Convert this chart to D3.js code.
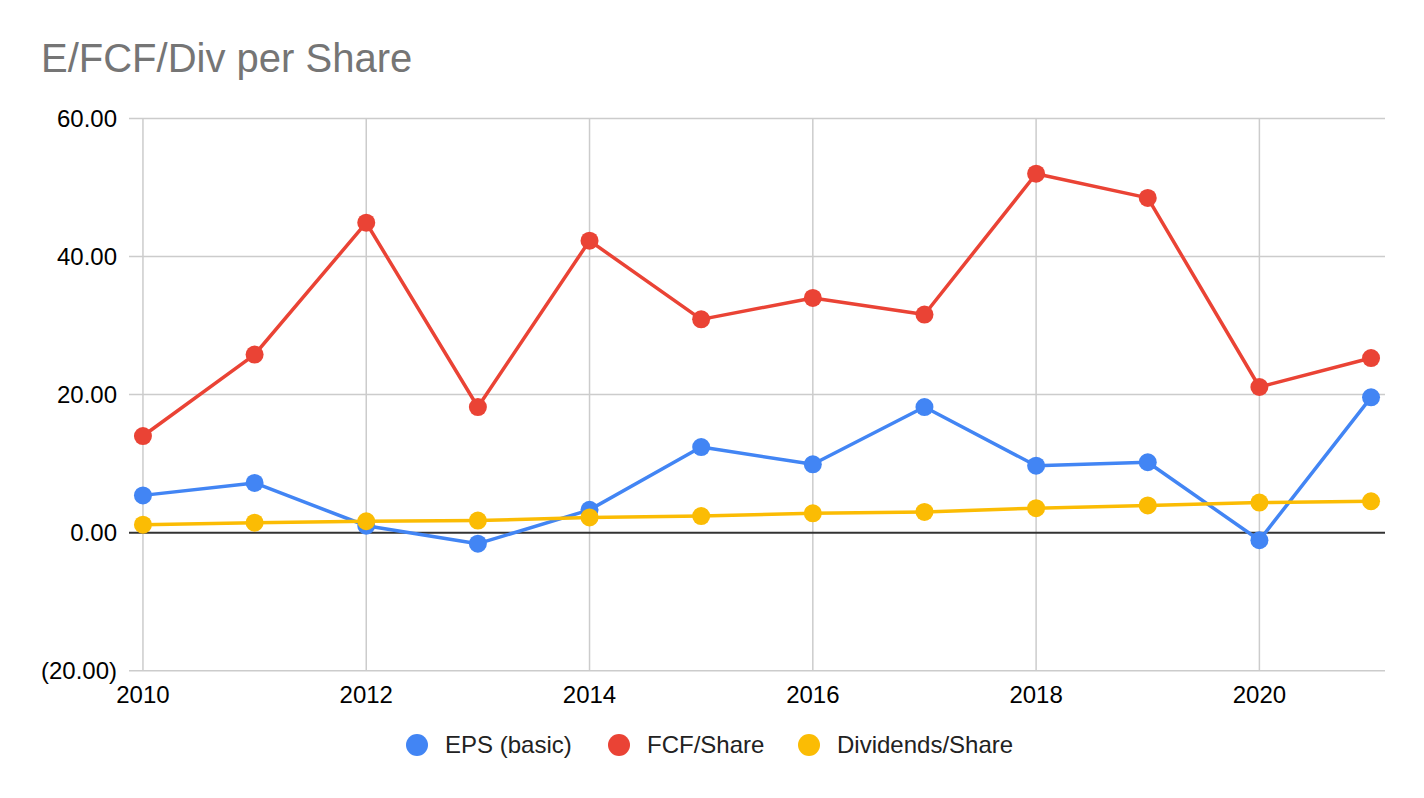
<!DOCTYPE html>
<html>
<head>
<meta charset="utf-8">
<script src="https://cdn.jsdelivr.net/npm/d3@7"></script>
<style>
  body { margin: 0; background: #fff; }
  svg { display: block; font-family: "Liberation Sans", Arial, sans-serif; }
</style>
</head>
<body>
<div id="chart"></div>
<script>
const years = [2010, 2011, 2012, 2013, 2014, 2015, 2016, 2017, 2018, 2019, 2020, 2021];
const eps = [5.4, 7.2, 1.0, -1.6, 3.3, 12.4, 9.9, 18.2, 9.7, 10.2, -1.1, 19.6];
const fcf = [14.0, 25.8, 44.9, 18.2, 42.3, 30.9, 34.0, 31.6, 52.0, 48.5, 21.1, 25.3];
const dividends = [1.15, 1.45, 1.65, 1.75, 2.2, 2.4, 2.8, 3.0, 3.55, 3.95, 4.35, 4.55];
const seriesNames = ["EPS (basic)", "FCF/Share", "Dividends/Share"];
const colors = ["#4285F4", "#EA4335", "#FBBC04"];
const yTicks = [-20, 0, 20, 40, 60];
const xTicks = [2010, 2012, 2014, 2016, 2018, 2020];

const width = 1424, height = 798;
const plot = {left: 129, right: 1385, top: 118.5, bottom: 670.7};

const svg = d3.select("#chart").append("svg")
  .attr("width", width)
  .attr("height", height);

svg.append("text")
  .attr("x", 41)
  .attr("y", 72)
  .attr("fill", "#757575")
  .style("font-size", "40px")
  .text("E/FCF/Div per Share");

const x = d3.scaleLinear()
  .domain([2009.875, 2021.125])
  .range([plot.left, plot.right]);

const y = d3.scaleLinear()
  .domain([-20, 60])
  .range([plot.bottom, plot.top]);

const fmt = v => v < 0 ? `(${d3.format(".2f")(-v)})` : d3.format(".2f")(v);

// vertical grid
svg.append("g")
  .selectAll("line")
  .data(xTicks)
  .join("line")
  .attr("x1", d => x(d)).attr("x2", d => x(d))
  .attr("y1", plot.top).attr("y2", plot.bottom)
  .attr("stroke", "#cccccc")
  .attr("stroke-width", 1.5);

// horizontal grid
svg.append("g")
  .selectAll("line")
  .data(yTicks.filter(d => d !== 0))
  .join("line")
  .attr("x1", plot.left).attr("x2", plot.right)
  .attr("y1", d => y(d)).attr("y2", d => y(d))
  .attr("stroke", "#cccccc")
  .attr("stroke-width", 1.5);

// y labels
svg.append("g")
  .selectAll("text")
  .data(yTicks)
  .join("text")
  .attr("x", 117)
  .attr("y", d => y(d))
  .attr("dy", "0.35em")
  .attr("text-anchor", "end")
  .attr("fill", "#000")
  .style("font-size", "24px")
  .text(fmt);

// x labels
svg.append("g")
  .selectAll("text")
  .data(xTicks)
  .join("text")
  .attr("x", d => x(d))
  .attr("y", 703)
  .attr("text-anchor", "middle")
  .attr("fill", "#000")
  .style("font-size", "24px")
  .text(d => d);

// zero baseline
svg.append("line")
  .attr("x1", plot.left).attr("x2", plot.right)
  .attr("y1", y(0)).attr("y2", y(0))
  .attr("stroke", "#333333")
  .attr("stroke-width", 2);

const series = [eps, fcf, dividends];
const line = d3.line()
  .x((d, i) => x(years[i]))
  .y(d => y(d));

series.forEach((vals, k) => {
  const g = svg.append("g");
  g.append("path")
    .datum(vals)
    .attr("d", line)
    .attr("fill", "none")
    .attr("stroke", colors[k])
    .attr("stroke-width", 3.5)
    .attr("stroke-linejoin", "round");
  g.selectAll("circle")
    .data(vals)
    .join("circle")
    .attr("cx", (d, i) => x(years[i]))
    .attr("cy", d => y(d))
    .attr("r", 9)
    .attr("fill", colors[k]);
});

// legend
const legendX = [417, 619, 809];
const legend = svg.append("g")
  .selectAll("g")
  .data(seriesNames)
  .join("g")
  .attr("transform", (d, i) => `translate(${legendX[i]}, 745)`);
legend.append("circle")
  .attr("r", 11)
  .attr("fill", (d, i) => colors[i]);
legend.append("text")
  .attr("x", 28)
  .attr("dy", "0.35em")
  .attr("fill", "#222")
  .style("font-size", "24px")
  .text(d => d);
</script>
</body>
</html>
